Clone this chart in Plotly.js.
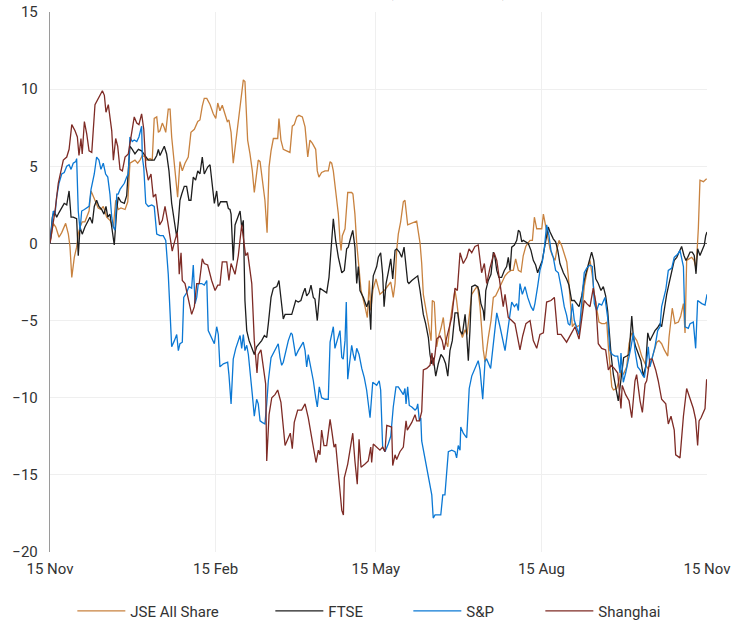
<!DOCTYPE html>
<html>
<head>
<meta charset="utf-8">
<script src="https://cdn.plot.ly/plotly-3.0.1.min.js"></script>
<style>html,body{margin:0;padding:0;background:#fff;}#chart{width:745px;height:623px;}</style>
</head>
<body>
<div id="chart"></div>
<script>
// Days since 15 Nov (start of period) and cumulative % change
const startDate = '2021-11-15';
const tickDates = ['2021-11-15','2022-02-15','2022-05-15','2022-08-15','2022-11-15'];
const tickLabels = ['15 Nov','15 Feb','15 May','15 Aug','15 Nov'];
const seriesNames = ['JSE All Share','FTSE','S&P','Shanghai'];

const jseDays = [0,1.8,3.2,5.0,6.5,8.7,10.2,11.1,12.1,13.5,14.8,15.7,16.7,17.9,19.4,20.4,21.7,22.8,24.1,25.0,26.8,28.3,29.6,31.5,33.3,35.2,36.5,37.9,39.4,41.7,43.2,44.4,45.7,47.2,48.7,50.0,51.3,52.8,53.7,55.6,56.8,57.9,59.3,60.2,61.1,62.4,63.5,64.3,65.7,66.7,67.6,69.1,70.0,70.9,72.2,73.5,75.0,76.8,78.3,80.2,82.1,83.3,84.6,85.7,87.1,88.9,90.7,92.1,93.2,94.4,95.7,97.2,98.5,99.4,100.6,101.8,103.2,104.6,106.1,107.4,108.3,109.3,109.8,111.1,112.4,113.5,114.8,115.7,116.7,117.9,119.4,120.6,121.7,122.8,124.1,125.4,126.5,127.2,128.3,129.6,131.5,133.3,134.6,135.7,137.1,138.3,140.2,141.7,143.2,144.4,145.7,147.6,148.5,149.4,150.9,152.8,154.6,155.6,156.5,157.4,158.7,160.2,161.1,161.7,162.4,163.9,165.4,167.6,168.3,169.4,170.4,171.4,172.8,175.0,176.3,177.4,178.2,179.4,181.1,183.3,186.1,189.3,190.7,191.7,192.6,193.5,194.8,196.3,197.2,198.7,201.0,203.7,205.6,206.5,207.4,208.7,210.2,211.7,212.4,213.5,214.8,215.7,217.2,218.5,219.8,221.0,222.2,223.5,225.0,225.9,226.8,227.8,229.1,230.6,231.7,234.3,236.5,237.6,238.9,239.8,240.7,241.7,242.6,243.5,245.0,246.3,247.6,249.1,250.9,252.8,254.3,256.1,257.4,258.7,260.2,261.7,262.9,264.3,265.4,266.7,268.0,269.1,270.4,271.7,273.2,274.1,275.0,275.9,276.8,277.8,279.1,280.6,281.5,282.8,284.3,285.7,287.1,288.0,289.4,290.2,291.3,292.6,294.4,295.4,296.8,298.2,300.0,301.3,302.4,303.7,305.0,306.5,308.3,309.3,310.2,312.1,313.0,314.8,316.1,317.2,318.5,320.4,321.7,323.2,324.6,326.0,327.2,328.7,330.6,332.1,333.3,334.3,335.7,337.1,338.3,339.8,341.3,343.2,343.9,345.0,345.7,347.2,349.1,350.4,351.9,352.8,353.7,355.0,356.5,357.8,358.7,359.4,360.2,361.1,363.0,364.8];
const jseValues = [0,1.3,1.06,0.4,0.7,1.3,0.6,-0.2,-2.2,-0.9,-0.24,0.6,1.06,1.4,1.4,1.7,2.1,3.4,3.0,2.8,2.3,2.2,2.4,1.7,1.5,1.06,2.8,2.2,2.3,2.2,2.7,5.2,5.3,5.4,5.2,5.4,5.7,5.6,5.4,5.5,5.4,8.1,8.2,7.2,7.3,7.8,7.5,7.2,8.7,8.7,6.9,5.2,4.1,3.0,5.3,4.7,5.2,5.6,7.2,7.4,7.9,8.0,8.9,9.4,9.4,9.0,8.4,8.1,9.1,8.6,8.96,8.3,7.9,8.0,7.2,5.2,6.5,7.8,9.3,10.6,10.5,8.2,6.7,5.8,4.7,3.3,4.5,5.4,5.3,4.3,2.8,0.7,4.96,6.0,6.8,6.8,6.8,8.1,6.7,6.1,6.0,5.9,7.6,7.7,8.2,8.3,8.2,7.55,5.6,6.7,6.5,6.1,4.7,4.3,4.6,4.7,4.7,5.3,5.2,4.7,3.4,1.9,0.2,-0.45,0.5,0.95,3.3,3.3,3.2,1.9,0,-1.5,-3.05,-4.1,-4.8,-2.4,-4.35,-3.0,-2.3,-3.3,-3.0,-2.5,-3.5,-2.6,-0.45,0.6,1.4,2.7,2.8,1.2,1.3,1.45,0,-1.3,-3.3,-4.1,-5.2,-6.3,-3.7,-3.8,-6.7,-6.1,-5.5,-4.8,-6.3,-6.7,-5.2,-4.1,-3.05,-3.7,-4.8,-5.6,-6.1,-5.6,-5.9,-3.3,-2.9,-2.8,-4.1,-5.6,-6.9,-7.7,-6.7,-6.1,-5.0,-3.5,-3.4,-3.05,-2.6,-2.1,-1.9,-1.75,-1.75,-1.0,-1.75,-1.85,-0.8,-0.2,0,0.2,0.2,1.7,0.95,0.95,0.95,1.9,1.4,0.85,0.4,-0.35,-0.8,-1.1,-0.45,0.2,-0.15,-0.7,-1.2,-2.2,-4.6,-5.4,-5.2,-5.4,-5.3,-4.6,-2.8,-1.9,-1.1,-2.1,-3.3,-4.1,-5.1,-5.2,-5.2,-5.1,-6.7,-9.3,-9.5,-9.4,-8.9,-8.2,-8.5,-8.0,-6.5,-5.8,-6.1,-6.3,-6.7,-7.3,-7.8,-8.1,-7.9,-7.5,-7.1,-6.4,-6.3,-6.5,-6.9,-7.3,-6.1,-4.8,-4.2,-5.2,-5.1,-4.7,-3.9,-5.8,-1.1,-1.0,-0.9,-1.1,-1.5,-0.7,1.0,4.1,4.0,4.2];

const ftseDays = [0,1.3,2.4,3.7,5.0,6.5,7.9,9.3,10.6,11.7,12.9,14.8,15.7,16.7,17.9,19.4,20.9,22.2,23.5,24.6,25.9,27.2,28.7,30.0,31.1,32.1,33.3,34.3,35.7,37.1,37.9,39.4,41.3,42.6,44.4,45.7,47.2,49.1,50.9,52.1,53.2,54.6,56.5,57.9,59.3,60.2,61.1,62.4,63.5,64.8,66.1,67.6,69.1,70.4,71.3,72.2,73.2,74.6,75.9,77.2,78.3,79.6,80.9,82.1,83.3,84.6,85.7,87.6,88.9,90.2,91.3,92.6,93.5,94.8,96.3,98.2,99.1,100.0,100.6,101.3,101.8,102.8,104.3,105.6,106.5,107.4,108.3,109.3,110.6,112.1,113.5,114.8,116.1,117.6,119.1,120.4,121.3,122.8,124.1,126.0,127.2,128.3,129.6,130.6,132.4,134.3,135.2,136.5,137.9,139.4,140.7,141.7,142.6,143.9,145.0,146.3,147.2,148.5,150.0,151.8,153.7,155.0,156.1,156.8,157.4,158.7,160.2,162.1,163.5,164.8,165.7,167.1,168.2,169.4,170.4,171.3,172.2,174.1,175.9,177.2,178.2,178.7,179.6,181.5,182.4,183.7,184.8,185.6,186.7,187.9,189.3,190.4,191.7,192.6,194.1,195.4,196.7,198.7,199.4,201.0,202.8,204.3,205.6,206.5,207.4,208.7,210.2,211.1,212.1,212.9,214.3,215.7,217.2,218.5,219.8,221.0,222.2,223.5,225.0,226.5,227.8,229.1,230.6,231.5,232.4,233.3,234.3,236.1,237.6,238.3,239.4,240.7,241.3,242.1,243.5,245.0,246.3,247.2,248.2,249.4,250.9,252.4,253.7,254.6,255.6,256.5,258.0,259.3,260.2,261.1,262.1,262.9,264.3,265.7,267.2,268.5,269.8,270.9,272.2,273.5,274.6,275.9,276.8,277.8,279.6,280.9,282.1,283.3,285.2,287.0,288.3,289.8,291.3,292.6,293.9,295.4,296.8,298.2,299.4,300.9,302.1,303.2,304.6,306.1,307.4,308.7,309.8,310.6,311.7,313.0,314.3,315.7,316.7,317.6,318.7,320.4,321.7,323.2,324.1,325.4,326.8,328.3,329.6,330.9,332.1,333.3,334.6,336.1,337.6,338.9,339.8,341.3,342.6,343.9,345.4,346.8,348.2,349.4,350.9,352.2,353.3,354.3,355.6,356.8,357.9,358.9,359.8,361.1,362.4,363.5,364.3,365.0];
const ftseValues = [0,1.7,2.1,1.7,2.0,2.3,2.6,2.5,3.4,1.7,1.7,1.6,-0.8,1.06,0.6,1.06,1.4,1.7,1.3,2.4,2.8,2.4,2.2,1.9,2.4,1.7,1.9,1.06,-0.1,2.2,3.0,2.7,2.6,3.1,6.3,6.1,5.8,6.1,6.0,5.8,5.6,5.4,5.4,5.4,5.7,6.1,5.7,6.0,6.3,5.8,4.7,2.6,1.5,0.4,1.4,2.8,3.2,3.7,3.7,2.8,2.8,4.3,4.1,4.7,4.5,5.6,4.5,4.95,5.1,3.65,2.6,3.4,2.4,2.7,2.7,2.7,2.26,2.2,1.9,-0.45,-1.1,1.2,1.7,2.1,1.06,1.5,-3.7,-5.65,-6.3,-6.8,-7.2,-6.7,-6.5,-6.3,-5.97,-6.1,-5.2,-3.5,-2.9,-2.8,-2.4,-3.5,-4.9,-4.6,-4.6,-4.6,-4.24,-3.7,-3.8,-3.7,-3.2,-2.9,-3.4,-3.2,-2.7,-3.5,-3.6,-5.0,-2.9,-3.05,-3.2,-2.2,-0.7,0.7,1.6,0.2,-0.9,-1.9,-1.75,-0.35,-0.24,0.4,0.85,-0.24,-2.6,-1.5,-3.05,-3.5,-4.1,-3.7,-5.6,-3.5,-2.1,-1.5,-0.9,-0.6,-2.0,-4.1,-2.6,-1.9,-1.0,-2.3,-0.45,-0.35,-0.56,-0.9,-0.24,-2.5,-2.6,-2.4,-2.2,-2.1,-3.05,-3.7,-4.6,-5.2,-6.1,-7.2,-7.8,-7.4,-8.6,-7.8,-7.2,-7.4,-7.8,-8.6,-6.95,-6.3,-4.5,-4.5,-5.65,-5.9,-4.6,-5.9,-7.6,-5.65,-2.8,-2.7,-2.8,-3.05,-3.9,-4.35,-5.0,-3.05,-2.4,-2.0,-0.56,-0.9,-1.75,-2.2,-2.2,-1.75,-1.5,-0.9,-1.75,-0.24,-0.1,0.2,0.85,0.74,0.1,0.2,0.1,0,-0.45,-1.1,-1.4,-1.9,-1.5,-1.1,-0.35,0.5,1.06,0.74,0.3,0.1,-0.45,-1.3,-1.9,-2.3,-2.7,-3.7,-3.7,-3.9,-4.1,-3.4,-2.4,-1.75,-1.2,-0.56,-1.1,-2.3,-2.6,-3.05,-2.8,-3.4,-4.35,-5.6,-7.2,-8.5,-9.3,-10.2,-9.3,-8.5,-7.4,-7.3,-7.2,-4.7,-6.1,-6.7,-7.2,-7.6,-8.6,-8.0,-5.8,-6.3,-6.0,-5.65,-5.45,-5.2,-5.4,-4.1,-3.3,-2.6,-1.75,-1.1,-0.9,-0.56,-0.2,-0.78,-1.1,-0.9,-0.56,-0.56,-0.78,-1.97,-0.35,-0.78,-0.45,-0.1,0.5,0.74];

const spDays = [0,1.8,2.8,3.7,5.0,6.5,7.9,9.3,10.6,11.7,12.9,14.3,14.8,15.7,16.7,17.6,19.1,20.4,21.7,22.8,23.5,24.6,25.9,27.2,28.3,29.6,30.9,32.1,33.3,34.3,35.2,36.1,37.1,37.9,38.9,40.2,41.3,42.6,43.5,44.4,45.7,46.8,48.2,49.4,50.9,51.3,52.1,53.2,54.6,56.5,57.9,59.3,61.1,62.9,64.3,65.7,66.7,67.6,69.1,70.4,71.3,72.2,73.5,74.3,75.9,77.2,78.7,79.6,80.6,81.5,82.4,84.3,85.7,87.1,87.9,89.8,91.3,92.6,93.5,94.4,96.3,98.7,99.4,100.6,101.8,103.2,104.6,105.6,106.5,107.4,108.3,109.3,110.2,111.7,112.4,113.5,114.8,115.7,116.7,117.9,119.4,120.4,121.3,122.8,124.1,125.4,126.8,127.8,128.7,129.6,130.9,132.4,133.9,134.6,135.4,136.5,137.9,139.4,140.7,141.7,142.6,143.5,145.0,146.3,147.6,148.5,149.6,150.9,152.8,154.6,155.6,156.5,157.4,158.3,159.8,161.1,162.1,162.9,163.9,164.6,165.4,166.7,167.6,168.5,169.4,170.4,171.7,173.2,174.6,175.9,176.8,177.8,179.3,181.5,182.9,183.7,184.8,186.1,187.9,189.3,190.7,192.2,193.5,194.8,196.3,197.2,197.8,198.7,199.6,201.0,201.8,202.8,203.7,204.3,205.2,206.0,206.5,208.3,210.2,212.1,212.9,213.9,215.7,217.1,218.2,219.4,221.3,223.2,225.0,225.9,226.8,227.8,228.2,229.6,231.5,232.9,234.3,236.1,237.9,238.9,240.4,241.7,242.6,244.8,246.3,248.2,250.0,251.5,252.8,254.3,255.6,256.5,258.0,259.3,260.2,261.1,262.4,263.9,265.4,267.2,268.5,269.4,270.9,272.2,273.5,274.6,275.9,277.2,278.3,279.6,280.9,282.4,283.9,285.7,287.0,287.9,288.9,290.2,291.3,292.6,293.9,295.4,296.8,298.2,300.0,301.3,302.4,303.7,305.0,306.5,308.3,309.8,311.1,312.4,313.9,315.4,316.7,317.2,318.5,319.8,321.3,322.8,324.1,325.0,326.5,327.8,329.1,330.2,331.5,332.4,333.3,334.6,336.1,337.6,338.9,339.8,342.1,343.5,345.4,346.8,348.7,350.0,351.3,351.9,352.8,354.6,355.6,357.4,358.7,359.8,362.1,363.9,365.0];
const spValues = [0,2.1,1.9,3.0,3.9,4.5,4.6,5.0,5.1,4.8,5.2,5.3,5.5,2.1,0.85,2.1,2.2,2.3,2.4,3.5,3.9,4.5,5.6,5.4,4.8,5.2,4.5,4.3,3.2,1.7,1.06,0.85,3.2,3.2,3.5,3.7,3.9,4.3,4.5,6.9,6.6,6.7,6.6,6.9,7.6,5.6,4.9,2.6,2.4,2.5,2.4,0.6,0.5,0.5,0.2,-2.0,-5.0,-6.7,-6.3,-5.9,-6.95,-6.5,-6.4,-3.5,-3.2,-2.8,-2.9,-1.4,-3.9,-3.5,-2.6,-2.6,-2.7,-2.4,-5.65,-6.1,-6.5,-5.4,-5.9,-8.0,-7.8,-7.7,-8.5,-10.4,-7.5,-6.8,-6.3,-5.97,-6.8,-5.9,-6.95,-6.6,-7.2,-8.7,-9.8,-11.2,-10.1,-10.4,-11.5,-11.6,-11.7,-10.4,-8.9,-7.4,-7.1,-6.8,-6.5,-7.4,-7.9,-7.7,-6.95,-6.3,-5.8,-5.9,-6.5,-7.3,-6.95,-6.7,-6.4,-6.95,-8.0,-7.2,-8.0,-8.9,-10.0,-10.6,-9.3,-10.0,-10.1,-10.1,-6.4,-5.9,-5.4,-6.8,-6.1,-5.65,-7.4,-7.5,-6.3,-3.8,-8.8,-7.6,-6.6,-7.2,-7.6,-6.8,-7.2,-8.1,-8.7,-9.5,-10.4,-11.3,-9.0,-9.2,-8.9,-9.5,-13.2,-13.5,-13.0,-12.5,-10.6,-9.3,-9.3,-9.5,-9.8,-9.4,-10.4,-9.3,-10.5,-10.6,-10.7,-10.8,-10.7,-10.4,-11.5,-11.3,-12.8,-13.9,-14.95,-16.3,-17.8,-17.6,-17.6,-17.6,-16.3,-16.3,-13.5,-13.4,-13.5,-13.9,-13.1,-13.4,-11.9,-12.3,-12.6,-9.4,-8.6,-8.1,-7.6,-8.2,-10.1,-7.6,-7.5,-8.1,-6.3,-4.5,-5.4,-6.2,-6.95,-5.65,-4.35,-3.8,-4.1,-3.9,-4.35,-2.6,-3.3,-2.8,-3.5,-4.1,-4.35,-3.9,-2.8,-1.75,-1.2,-0.35,1.2,0.52,-0.45,-0.9,-1.75,-1.9,-2.8,-4.1,-4.65,-5.2,-5.3,-3.9,-5.0,-5.4,-5.9,-3.8,-1.9,-1.6,-1.4,-1.5,-3.9,-4.35,-3.9,-4.0,-3.5,-4.8,-6.95,-7.2,-7.3,-7.3,-8.4,-7.1,-9.0,-8.4,-7.6,-6.7,-5.8,-6.95,-8.0,-8.2,-8.5,-8.7,-7.6,-6.7,-8.0,-7.4,-6.7,-5.65,-5.4,-4.1,-3.0,-1.75,-1.6,-0.9,-0.7,-0.45,-1.1,-1.5,-5.4,-5.5,-5.2,-5.1,-6.8,-3.7,-3.9,-4.0,-3.3];

const shanghaiDays = [0,2.8,4.6,7.4,9.3,10.6,12.1,13.9,15.2,16.1,17.2,17.9,19.1,20.4,21.7,23.2,25.0,26.8,29.1,30.2,31.1,32.4,33.3,34.3,35.2,36.5,37.6,38.9,40.2,41.7,43.5,45.7,46.8,48.2,49.4,50.9,52.1,53.2,54.6,56.1,57.4,58.7,59.8,60.9,62.4,63.9,65.4,66.7,67.9,69.4,70.7,71.3,71.8,72.8,73.5,75.0,76.8,78.7,80.2,81.5,82.9,84.6,85.7,87.6,89.8,91.7,93.2,94.4,95.7,98.2,99.4,100.6,102.8,104.6,106.5,108.7,109.8,112.1,113.5,114.3,115.0,115.7,117.2,118.5,119.8,120.4,121.7,123.2,125.0,126.5,128.3,130.6,132.4,133.5,134.6,135.7,137.6,139.8,141.7,143.5,145.4,147.8,149.1,150.0,150.9,152.2,153.7,155.6,156.5,157.8,158.7,160.2,162.1,163.0,163.5,165.4,168.2,169.4,170.7,171.7,172.8,175.0,176.8,178.2,178.7,179.6,181.5,183.3,184.8,186.1,187.1,189.8,190.4,191.7,192.6,194.4,196.3,197.8,198.5,201.0,202.8,203.7,205.2,206.5,207.4,209.3,211.1,212.2,212.9,213.9,214.8,216.7,217.9,218.9,220.4,222.2,223.2,225.0,226.3,227.8,229.6,231.5,232.8,234.3,236.1,237.9,239.8,241.3,242.6,244.4,246.7,248.2,250.0,251.8,252.8,254.6,256.5,258.3,261.1,262.6,264.4,266.7,268.5,270.4,272.2,274.1,275.9,278.3,280.2,282.0,283.9,287.0,289.8,291.7,293.9,295.4,296.8,298.2,300.0,301.8,303.2,304.6,306.5,308.7,310.2,311.7,313.5,315.4,317.2,317.9,319.8,321.7,323.2,325.0,325.9,327.8,329.1,330.6,331.5,333.3,334.6,336.5,337.9,339.8,342.1,343.5,345.0,346.8,347.6,350.0,351.9,353.7,355.6,357.4,358.7,359.8,360.6,361.7,363.9,364.8];
const shanghaiValues = [0,2.1,3.9,5.4,5.6,6.1,7.7,7.3,6.9,5.7,6.8,5.8,7.9,7.1,6.0,5.9,9.0,9.4,9.9,9.6,8.5,9.0,8.0,7.3,5.4,6.8,6.3,4.8,4.7,5.6,5.8,7.6,8.2,7.8,7.7,8.4,7.4,5.0,4.1,4.5,3.0,3.2,2.1,1.2,1.5,2.4,1.4,0.5,-0.5,0.2,0.7,-0.5,-2.0,-0.6,-2.4,-2.6,-3.5,-4.6,-4.1,-2.6,-2.6,-1.0,-1.3,-1.4,-2.4,-3.05,-2.7,-2.7,-1.2,-1.2,-2.4,-1.3,-2.0,-0.8,1.2,-0.8,-0.6,-2.6,-6.3,-7.3,-8.4,-7.2,-6.9,-8.0,-9.1,-14.1,-11.1,-10.0,-9.8,-9.5,-10.3,-13.1,-12.6,-12.3,-13.3,-11.6,-10.8,-10.8,-10.4,-11.3,-12.6,-14.2,-13.4,-13.7,-12.1,-13.1,-13.1,-11.4,-12.1,-13.2,-13.0,-14.96,-17.3,-17.6,-15.2,-14.3,-12.3,-14.1,-15.6,-12.7,-14.5,-14.3,-14.1,-13.2,-14.2,-13.0,-13.2,-13.4,-13.2,-13.5,-11.8,-11.9,-14.4,-13.7,-14.0,-13.5,-13.2,-11.5,-12.1,-11.6,-11.1,-11.5,-11.5,-10.9,-8.2,-8.1,-7.9,-7.1,-7.9,-7.2,-6.2,-6.0,-6.3,-6.9,-6.1,-5.2,-4.8,-2.9,-3.05,-0.6,-1.3,-0.9,-0.35,-0.6,-0.2,-0.1,-1.9,-1.3,-2.6,-1.6,-0.6,-1.1,-2.6,-4.1,-3.3,-4.8,-5.0,-5.2,-6.9,-6.0,-5.2,-5.0,-6.3,-6.8,-5.9,-5.8,-3.8,-3.7,-3.5,-5.9,-5.9,-6.4,-5.8,-5.4,-6.2,-5.0,-3.7,-3.9,-4.1,-2.9,-3.8,-6.5,-6.8,-6.9,-8.2,-7.9,-8.1,-8.4,-10.7,-9.2,-9.8,-10.2,-11.3,-8.9,-8.5,-10.2,-10.95,-9.1,-8.9,-7.5,-7.5,-8.2,-8.9,-10.1,-10.4,-11.7,-11.2,-12.1,-13.7,-13.9,-11.2,-9.4,-10.1,-10.7,-11.4,-13.1,-11.5,-11.3,-10.7,-8.8];

const seriesColors = ['#C8823F','#1E1E1E','#0B78D4','#7E2B25'];
const legendWidths = [135, 75, 69, 72];

function toDate(d) {
  const base = Date.parse(startDate + 'T00:00:00Z');
  return new Date(base + d * 86400000).toISOString().slice(0, 19).replace('T', ' ');
}

const dayArrays = [jseDays, ftseDays, spDays, shanghaiDays];
const valueArrays = [jseValues, ftseValues, spValues, shanghaiValues];

const traces = seriesNames.map((name, i) => ({
  type: 'scatter',
  mode: 'lines',
  name: name,
  x: dayArrays[i].map(toDate),
  y: valueArrays[i],
  line: {color: seriesColors[i], width: 1.3},
  legendwidth: legendWidths[i],
  hoverinfo: 'skip'
}));

const layout = {
  width: 745,
  height: 623,
  margin: {l: 50, r: 38, t: 12, b: 71, autoexpand: false},
  paper_bgcolor: '#ffffff',
  plot_bgcolor: '#ffffff',
  font: {family: 'Roboto, "Noto Sans", sans-serif', size: 15, color: '#333333'},
  showlegend: true,
  legend: {
    orientation: 'h',
    x: 0.034, xanchor: 'left',
    y: -0.079, yanchor: 'top',
    itemwidth: 48,
    font: {size: 15, color: '#333333'},
    traceorder: 'normal'
  },
  xaxis: {
    type: 'date',
    range: [tickDates[0], tickDates[tickDates.length - 1]],
    tickmode: 'array',
    tickvals: tickDates,
    ticktext: tickLabels,
    showgrid: true,
    gridcolor: '#efefef',
    gridwidth: 1,
    zeroline: false,
    showline: false,
    ticks: '',
    ticklabelstandoff: 6,
    tickfont: {size: 15, color: '#333333'}
  },
  yaxis: {
    range: [-20, 15],
    tick0: 0,
    dtick: 5,
    showgrid: true,
    gridcolor: '#efefef',
    gridwidth: 1,
    zeroline: true,
    zerolinecolor: '#555555',
    zerolinewidth: 1,
    showline: true,
    linecolor: '#9a9a9a',
    linewidth: 1.2,
    ticks: '',
    ticklabelstandoff: 8,
    tickfont: {size: 15, color: '#333333'}
  },
  annotations: [{
    text: 'Stock market performance: percentage change (15 Nov 2021 = 0)',
    xref: 'paper', yref: 'paper',
    x: 0.365, y: 1,
    xanchor: 'center', yanchor: 'bottom',
    yshift: 9,
    showarrow: false,
    font: {size: 15, color: '#333333'}
  }]
};

Plotly.newPlot('chart', traces, layout, {displayModeBar: false, staticPlot: true});
</script>
</body>
</html>
